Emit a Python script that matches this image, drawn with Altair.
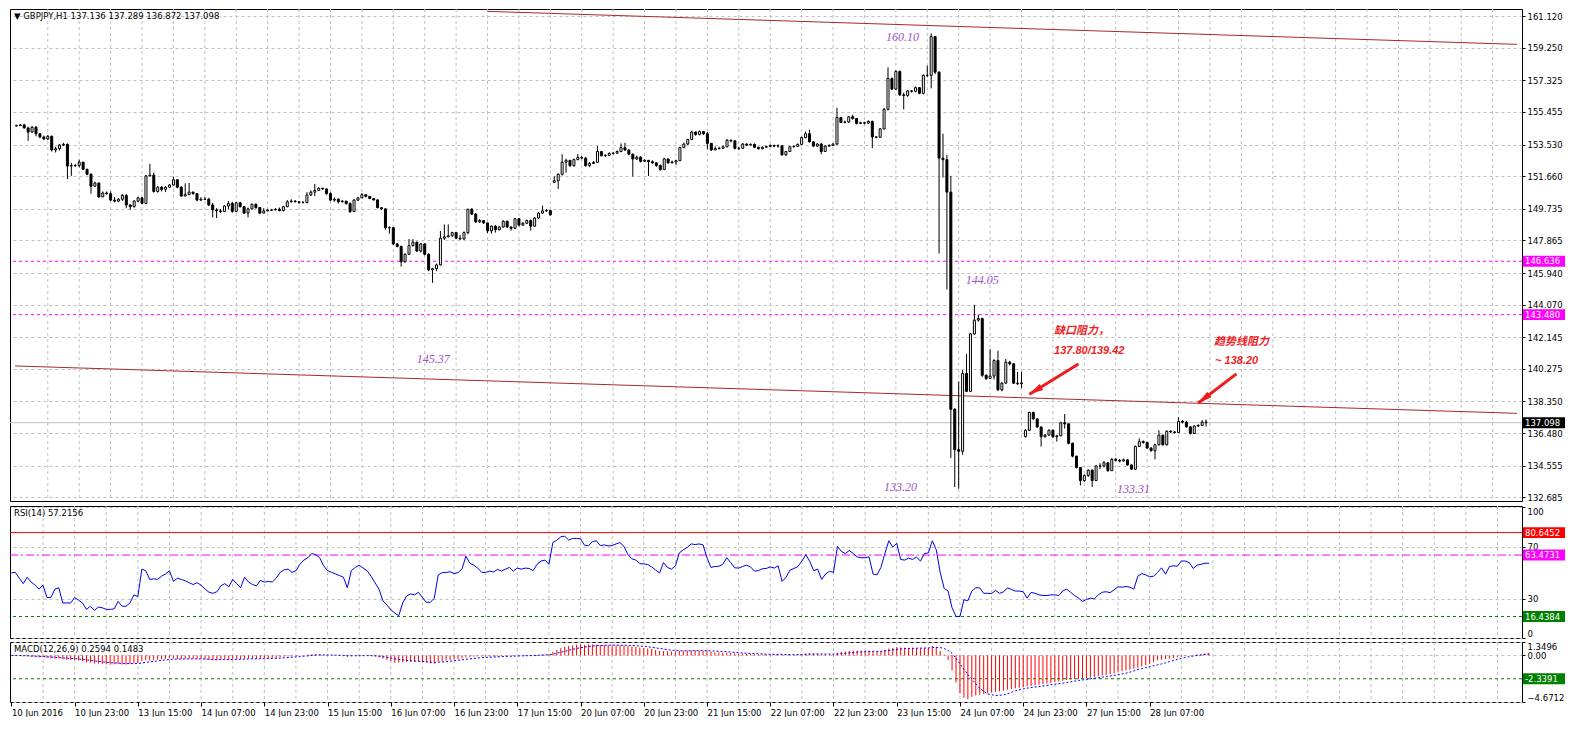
import altair as alt
import pandas as pd

# ---------------- data (GBPJPY H1, bar 0 = 10 Jun 2016 07:00) ----------------
close = [
    154.65, 154.69, 154.51, 154.27, 154.55, 154.17, 153.98, 153.86, 154.02, 153.21,
    153.29, 153.50, 153.54, 152.26, 152.29, 152.29, 152.49, 152.07, 151.78, 151.07,
    151.26, 150.44, 150.67, 150.63, 150.25, 150.19, 150.30, 150.53, 149.96, 149.86,
    150.19, 150.38, 150.05, 151.68, 151.72, 150.76, 151.01, 150.88, 151.01, 151.14,
    151.45, 151.01, 150.49, 150.57, 150.72, 150.63, 150.25, 150.30, 150.30, 149.96,
    149.67, 149.61, 149.58, 149.90, 150.05, 149.58, 150.09, 149.86, 149.48, 149.73,
    150.00, 149.81, 149.48, 149.61, 149.65, 149.67, 149.71, 149.63, 149.86, 150.15,
    150.19, 150.15, 150.11, 150.11, 150.55, 150.72, 150.82, 150.95, 150.91, 150.63,
    150.25, 150.30, 150.15, 150.19, 150.05, 149.57, 150.25, 150.38, 150.57, 150.47,
    150.34, 150.26, 149.80, 149.73, 148.62, 148.62, 147.66, 147.51, 146.61, 147.05,
    147.56, 147.76, 147.24, 147.66, 147.05, 146.13, 146.20, 146.42, 148.00, 148.08,
    148.14, 148.33, 148.00, 147.95, 148.33, 149.71, 149.42, 148.96, 149.04, 148.90,
    148.43, 148.71, 148.50, 148.66, 149.00, 148.66, 148.58, 149.15, 148.77, 148.88,
    149.04, 148.71, 149.19, 149.48, 149.61, 149.63, 149.38, 151.40, 151.78, 152.49,
    152.60, 152.29, 152.64, 152.77, 152.73, 152.29, 152.41, 152.48, 153.12, 152.87,
    152.89, 153.00, 153.02, 153.12, 153.35, 153.21, 152.96, 152.68, 152.79, 152.54,
    152.60, 152.52, 152.45, 152.29, 152.06, 152.68, 152.45, 152.50, 152.58, 153.35,
    153.56, 153.83, 154.27, 154.13, 154.30, 154.17, 153.60, 153.21, 153.29, 153.31,
    153.40, 153.79, 153.75, 153.31, 153.31, 153.56, 153.50, 153.54, 153.37, 153.29,
    153.37, 153.42, 153.48, 153.44, 153.46, 152.92, 153.12, 153.40, 153.42, 153.54,
    153.94, 154.17, 153.69, 153.44, 153.56, 153.12, 153.44, 153.48, 153.56, 155.13,
    154.84, 154.86, 155.17, 155.07, 154.78, 154.82, 154.80, 154.90, 153.98, 153.96,
    154.46, 155.61, 157.43, 156.81, 157.85, 156.47, 156.43, 156.70, 156.68, 156.89,
    156.56, 157.62, 157.62, 159.91, 157.81, 152.73, 152.64, 150.72, 137.89, 135.50,
    135.41, 140.00, 138.95, 142.34, 143.16, 143.25, 139.90, 139.71, 139.85, 140.77,
    139.04, 139.43, 140.67, 140.58, 139.43, 139.40, 139.45, 136.65, 137.70, 137.32,
    136.84, 136.27, 136.36, 136.65, 136.27, 136.32, 137.09, 137.03, 135.88, 135.12,
    134.45, 133.68, 133.97, 134.29, 133.68, 134.54, 134.54, 134.73, 134.26, 134.93,
    134.87, 134.83, 134.90, 134.60, 134.35, 135.69, 135.98, 135.93, 135.60, 135.44,
    135.79, 136.36, 135.79, 136.59, 136.55, 136.52, 137.17, 137.13, 136.85, 136.46,
    136.90, 136.94, 137.13, 137.098,
]
high = [
    154.71, 154.75, 154.75, 154.59, 154.63, 154.63, 154.13, 154.06, 154.09, 154.06,
    153.41, 153.56, 153.63, 153.60, 152.45, 152.39, 152.64, 152.45, 152.10, 151.82,
    151.34, 151.30, 150.76, 150.76, 150.76, 150.42, 150.38, 150.61, 150.61, 150.00,
    150.25, 150.46, 150.42, 151.72, 152.39, 151.87, 151.07, 151.07, 151.07, 151.20,
    151.64, 151.49, 151.07, 151.24, 151.26, 150.76, 150.63, 150.42, 150.42, 150.38,
    150.09, 149.77, 149.73, 149.96, 150.19, 150.15, 150.15, 150.15, 149.90, 149.81,
    150.05, 150.05, 149.84, 149.77, 149.73, 149.73, 149.77, 149.81, 149.90, 150.25,
    150.30, 150.25, 150.19, 150.19, 150.72, 150.82, 151.20, 151.00, 150.97, 150.91,
    150.72, 150.40, 150.36, 150.25, 150.19, 150.11, 150.30, 150.44, 150.67, 150.55,
    150.47, 150.36, 150.30, 149.82, 149.76, 148.70, 148.62, 147.70, 147.56, 147.10,
    147.95, 147.95, 147.80, 147.72, 147.70, 147.10, 146.25, 146.50, 148.43, 148.81,
    148.81, 148.38, 148.36, 148.20, 148.40, 149.73, 149.78, 149.48, 149.13, 149.04,
    148.90, 148.75, 148.77, 148.70, 149.06, 149.04, 148.70, 149.20, 149.20, 148.95,
    149.10, 149.10, 149.25, 149.55, 149.92, 149.72, 149.67, 151.65, 151.82, 152.96,
    152.70, 152.62, 152.70, 152.98, 152.85, 152.79, 152.50, 152.56, 153.44, 153.15,
    152.96, 153.08, 153.10, 153.18, 153.60, 153.63, 153.25, 153.00, 152.87, 152.83,
    152.66, 152.62, 152.60, 152.47, 152.35, 152.75, 152.70, 152.58, 152.62, 153.40,
    153.65, 153.87, 154.35, 154.30, 154.36, 154.34, 154.27, 153.63, 153.42, 153.40,
    153.46, 153.85, 153.82, 153.79, 153.40, 153.62, 153.60, 153.60, 153.60, 153.40,
    153.42, 153.46, 153.54, 153.52, 153.54, 153.50, 153.15, 153.44, 153.48, 153.60,
    154.00, 154.30, 154.40, 153.72, 153.62, 153.63, 153.48, 153.54, 153.60, 155.70,
    155.17, 154.95, 155.22, 155.30, 155.10, 154.88, 154.88, 154.96, 154.94, 154.02,
    154.50, 155.70, 158.09, 157.50, 157.92, 157.90, 156.60, 156.76, 156.75, 156.95,
    156.92, 157.68, 158.19, 160.10, 159.95, 157.85, 154.17, 152.92, 151.68, 137.95,
    139.52, 140.20, 141.15, 142.40, 144.06, 143.49, 143.30, 139.95, 141.44, 140.85,
    141.34, 139.50, 140.86, 140.75, 140.58, 140.10, 140.10, 136.70, 137.75, 137.75,
    137.35, 136.88, 136.42, 136.70, 136.70, 136.38, 137.15, 137.61, 137.05, 135.92,
    135.15, 134.45, 134.05, 134.35, 134.35, 134.60, 134.70, 134.83, 134.75, 135.00,
    135.02, 134.95, 134.98, 134.92, 134.64, 135.75, 136.17, 136.05, 135.95, 135.65,
    135.85, 136.65, 136.40, 136.65, 136.65, 136.60, 137.42, 137.25, 137.20, 136.90,
    136.95, 137.00, 137.25, 137.289,
]
low = [
    154.59, 154.63, 154.48, 153.75, 154.23, 154.02, 153.90, 153.79, 153.79, 153.12,
    153.06, 153.18, 153.44, 151.49, 151.68, 152.20, 152.18, 152.03, 151.72, 150.63,
    151.03, 150.38, 150.53, 150.57, 150.19, 150.11, 150.15, 150.19, 149.77, 149.67,
    149.81, 150.11, 150.00, 150.00, 151.64, 150.69, 150.69, 150.76, 150.72, 150.95,
    151.11, 150.95, 150.44, 150.49, 150.61, 150.57, 150.19, 150.21, 150.25, 149.90,
    149.23, 149.19, 149.48, 149.54, 149.69, 149.50, 149.54, 149.81, 149.42, 149.23,
    149.69, 149.73, 149.42, 149.54, 149.58, 149.61, 149.65, 149.58, 149.58, 149.83,
    150.11, 150.11, 150.03, 150.05, 150.05, 150.49, 150.49, 150.82, 150.86, 150.57,
    150.19, 150.15, 150.05, 150.11, 149.98, 149.48, 149.55, 150.19, 150.36, 150.40,
    150.30, 150.22, 149.76, 149.67, 148.50, 148.27, 147.60, 147.45, 146.32, 146.55,
    147.00, 147.50, 147.18, 147.15, 146.99, 146.05, 145.36, 146.05, 146.38, 147.89,
    148.05, 148.08, 147.95, 147.90, 147.90, 148.23, 149.38, 148.90, 148.90, 148.85,
    148.30, 148.27, 148.33, 148.45, 148.62, 148.60, 148.45, 148.55, 148.70, 148.73,
    148.85, 148.45, 148.68, 149.15, 149.45, 149.55, 149.33, 151.25, 150.91, 151.70,
    151.87, 152.20, 152.22, 152.60, 152.66, 152.22, 152.20, 152.40, 152.45, 152.83,
    152.80, 152.88, 152.95, 152.98, 153.08, 153.15, 152.90, 151.64, 152.62, 152.48,
    152.50, 151.68, 152.40, 152.22, 151.98, 152.02, 152.40, 152.43, 152.33, 152.55,
    153.35, 153.50, 153.79, 154.05, 154.07, 154.10, 153.25, 153.15, 153.21, 153.25,
    153.30, 153.37, 153.66, 153.25, 153.21, 153.29, 153.44, 153.48, 153.33, 153.23,
    153.25, 153.36, 153.40, 153.38, 153.35, 152.88, 152.85, 153.10, 153.36, 153.40,
    153.52, 153.90, 153.65, 153.38, 153.40, 152.96, 153.10, 153.40, 153.44, 153.50,
    154.80, 154.78, 154.80, 155.00, 154.72, 154.74, 154.72, 154.74, 153.31, 153.90,
    153.92, 154.40, 155.55, 156.75, 156.75, 156.40, 155.61, 156.35, 156.60, 156.62,
    156.50, 156.50, 157.52, 156.85, 157.70, 147.09, 151.58, 144.98, 135.02, 133.30,
    133.20, 135.20, 138.90, 138.90, 142.30, 143.06, 139.80, 139.62, 139.70, 139.65,
    138.98, 138.95, 139.40, 140.48, 139.38, 139.33, 139.14, 136.22, 136.60, 137.28,
    136.80, 135.69, 136.22, 136.32, 136.20, 135.98, 136.30, 136.75, 135.82, 135.05,
    134.40, 133.39, 133.60, 133.90, 133.30, 133.65, 134.35, 134.45, 134.20, 134.25,
    134.80, 134.75, 134.80, 134.55, 134.30, 134.30, 135.65, 135.85, 135.55, 135.40,
    134.93, 135.75, 135.75, 135.75, 136.50, 136.45, 136.50, 137.05, 136.80, 136.40,
    136.45, 136.84, 136.90, 136.872,
]
gap_open = {0: 154.63, 137: 151.30, 257: 136.27, 303: 137.136}

rsi = [
    49.8, 50.2, 45.8, 41.6, 46.5, 42.8, 40.4, 37.4, 40.4, 31.0,
    31.0, 37.4, 38.4, 26.8, 26.8, 26.8, 31.0, 29.0, 26.8, 21.9,
    24.3, 21.1, 23.6, 23.1, 21.9, 21.9, 22.3, 28.0, 24.3, 24.3,
    26.8, 33.0, 31.7, 52.7, 51.5, 44.8, 45.3, 44.8, 47.3, 49.0,
    51.5, 43.3, 45.8, 44.8, 43.8, 42.3, 40.9, 42.3, 40.4, 37.4,
    35.0, 34.2, 35.4, 39.9, 41.6, 39.1, 44.8, 41.6, 38.4, 46.5,
    42.8, 40.9, 39.9, 44.1, 42.8, 43.3, 42.8, 45.8, 50.2, 52.2,
    52.7, 50.2, 51.5, 56.4, 59.6, 61.4, 64.6, 63.8, 61.4, 55.2,
    51.5, 50.2, 49.0, 47.8, 46.5, 38.4, 51.5, 54.0, 55.7, 53.5,
    51.5, 47.3, 42.3, 37.4, 28.5, 25.3, 21.6, 19.1, 17.0, 26.8,
    32.2, 33.7, 33.0, 35.0, 31.0, 27.3, 27.3, 30.5, 48.3, 50.0,
    50.2, 50.7, 49.3, 50.0, 52.7, 62.6, 57.2, 55.7, 53.5, 50.2,
    50.2, 51.2, 50.5, 52.5, 51.2, 52.7, 54.0, 51.2, 53.5, 52.7,
    53.5, 53.2, 51.5, 56.4, 58.9, 59.6, 56.4, 73.0, 74.9, 77.4,
    77.9, 74.9, 76.2, 76.2, 75.9, 71.0, 70.5, 73.7, 74.4, 70.7,
    71.2, 70.5, 70.7, 72.0, 73.0, 70.0, 63.8, 60.6, 59.6, 56.9,
    56.7, 56.2, 54.4, 52.0, 49.8, 57.7, 54.0, 52.7, 55.2, 65.1,
    67.5, 69.3, 72.0, 71.5, 72.0, 71.2, 61.4, 54.0, 54.7, 54.9,
    56.4, 61.4, 57.7, 53.7, 53.5, 54.7, 55.7, 54.4, 51.2, 51.5,
    53.0, 53.2, 54.4, 53.5, 55.2, 43.3, 46.5, 52.0, 53.2, 54.7,
    58.9, 63.8, 58.6, 51.5, 52.7, 44.8, 49.0, 51.0, 50.2, 70.0,
    66.3, 64.6, 67.0, 64.6, 62.1, 61.4, 61.4, 62.1, 49.0, 48.3,
    54.0, 64.6, 74.4, 69.5, 72.5, 60.1, 59.6, 61.1, 60.1, 61.9,
    58.9, 64.6, 65.1, 74.4, 67.5, 50.2, 37.9, 35.9, 23.1, 16.5,
    16.44, 29.3, 28.5, 35.9, 38.4, 38.4, 34.2, 34.2, 34.0, 36.4,
    34.2, 35.2, 38.4, 37.2, 35.9, 35.9, 35.4, 30.5, 34.9, 34.2,
    33.0, 32.5, 32.5, 33.0, 33.0, 32.5, 35.9, 37.4, 35.0, 32.5,
    30.5, 28.0, 29.5, 30.5, 30.0, 33.0, 35.0, 35.4, 34.7, 36.9,
    39.1, 38.9, 39.4, 38.9, 37.4, 47.3, 49.3, 48.3, 46.8, 47.3,
    50.2, 53.7, 48.8, 54.7, 55.2, 54.9, 58.9, 58.9, 57.7, 53.2,
    55.7, 56.4, 57.2, 57.2156,
]
macd_main = [
    -0.02, -0.03, -0.05, -0.08, -0.10, -0.15, -0.18, -0.20, -0.18, -0.25,
    -0.30, -0.32, -0.30, -0.40, -0.45, -0.45, -0.45, -0.50, -0.58, -0.70,
    -0.72, -0.82, -0.82, -0.85, -0.90, -0.92, -0.90, -0.85, -0.90, -0.92,
    -0.85, -0.78, -0.75, -0.55, -0.45, -0.50, -0.45, -0.42, -0.38, -0.32,
    -0.28, -0.30, -0.35, -0.35, -0.33, -0.33, -0.35, -0.34, -0.36, -0.40,
    -0.45, -0.48, -0.48, -0.42, -0.38, -0.42, -0.35, -0.35, -0.38, -0.30,
    -0.30, -0.32, -0.35, -0.30, -0.30, -0.28, -0.28, -0.25, -0.18, -0.12,
    -0.10, -0.10, -0.08, -0.03, 0.02, 0.08, 0.12, 0.12, 0.10, 0.05,
    0.02, 0.00, -0.02, -0.03, -0.08, -0.15, -0.08, -0.02, 0.00, 0.00,
    -0.02, -0.05, -0.10, -0.20, -0.32, -0.45, -0.58, -0.72, -0.72, -0.68,
    -0.65, -0.62, -0.62, -0.62, -0.65, -0.72, -0.80, -0.82, -0.62, -0.55,
    -0.50, -0.45, -0.42, -0.35, -0.30, -0.20, -0.15, -0.12, -0.10, -0.10,
    -0.10, -0.12, -0.10, -0.10, -0.05, -0.07, -0.02, -0.03, 0.00, 0.00,
    0.02, 0.02, 0.02, 0.05, 0.08, 0.10, 0.12, 0.35, 0.55, 0.72,
    0.85, 0.95, 1.02, 1.08, 1.10, 1.05, 1.12, 1.10, 1.08, 1.05,
    1.05, 1.02, 1.00, 1.00, 1.02, 1.00, 0.95, 0.90, 0.85, 0.80,
    0.75, 0.70, 0.65, 0.55, 0.45, 0.45, 0.42, 0.40, 0.40, 0.45,
    0.48, 0.50, 0.52, 0.52, 0.50, 0.48, 0.45, 0.38, 0.32, 0.30,
    0.28, 0.28, 0.25, 0.22, 0.20, 0.18, 0.16, 0.15, 0.13, 0.10,
    0.10, 0.10, 0.10, 0.10, 0.10, 0.05, 0.05, 0.05, 0.06, 0.08,
    0.12, 0.20, 0.22, 0.20, 0.18, 0.12, 0.10, 0.10, 0.10, 0.25,
    0.35, 0.40, 0.45, 0.48, 0.48, 0.48, 0.48, 0.48, 0.40, 0.38,
    0.42, 0.55, 0.70, 0.75, 0.85, 0.80, 0.78, 0.76, 0.75, 0.72,
    0.70, 0.75, 0.78, 0.95, 0.85, 0.45, 0.10, -0.45, -1.50, -2.70,
    -3.80, -4.25, -4.37, -4.15, -4.01, -3.95, -3.85, -3.80, -3.72, -3.68,
    -3.60, -3.52, -3.44, -3.38, -3.30, -3.24, -3.18, -3.12, -3.06, -3.00,
    -2.94, -2.88, -2.82, -2.75, -2.68, -2.62, -2.55, -2.48, -2.41, -2.37,
    -2.34, -2.30, -2.27, -2.22, -2.15, -2.08, -2.01, -1.95, -1.88, -1.80,
    -1.67, -1.59, -1.50, -1.42, -1.34, -1.22, -1.10, -0.97, -0.84, -0.68,
    -0.50, -0.42, -0.35, -0.30, -0.27, -0.20, -0.12, -0.07, -0.02, 0.04,
    0.10, 0.15, 0.20, 0.2594,
]
macd_signal = [
    0.00, -0.01, -0.01, -0.02, -0.03, -0.05, -0.07, -0.09, -0.11, -0.13,
    -0.16, -0.19, -0.21, -0.24, -0.27, -0.30, -0.33, -0.36, -0.40, -0.45,
    -0.50, -0.55, -0.60, -0.64, -0.68, -0.72, -0.75, -0.77, -0.79, -0.81,
    -0.82, -0.82, -0.81, -0.76, -0.70, -0.65, -0.60, -0.55, -0.50, -0.45,
    -0.41, -0.38, -0.37, -0.36, -0.35, -0.35, -0.35, -0.35, -0.35, -0.36,
    -0.38, -0.40, -0.42, -0.42, -0.41, -0.41, -0.40, -0.39, -0.38, -0.37,
    -0.35, -0.34, -0.34, -0.33, -0.32, -0.31, -0.30, -0.29, -0.27, -0.24,
    -0.21, -0.18, -0.15, -0.12, -0.08, -0.04, 0.00, 0.03, 0.05, 0.05,
    0.05, 0.04, 0.03, 0.02, 0.00, -0.02, -0.03, -0.03, -0.02, -0.02,
    -0.02, -0.02, -0.04, -0.07, -0.12, -0.18, -0.25, -0.33, -0.40, -0.45,
    -0.50, -0.53, -0.56, -0.58, -0.60, -0.63, -0.67, -0.70, -0.68, -0.65,
    -0.62, -0.58, -0.54, -0.49, -0.44, -0.39, -0.34, -0.30, -0.26, -0.22,
    -0.20, -0.18, -0.16, -0.14, -0.12, -0.10, -0.08, -0.07, -0.05, -0.04,
    -0.03, -0.02, -0.01, 0.01, 0.03, 0.05, 0.06, 0.12, 0.22, 0.32,
    0.42, 0.52, 0.62, 0.70, 0.78, 0.84, 0.90, 0.94, 0.98, 1.00,
    1.02, 1.03, 1.03, 1.03, 1.02, 1.02, 1.01, 1.00, 0.98, 0.95,
    0.92, 0.88, 0.82, 0.76, 0.70, 0.64, 0.58, 0.53, 0.49, 0.47,
    0.46, 0.46, 0.47, 0.47, 0.48, 0.48, 0.47, 0.46, 0.44, 0.42,
    0.40, 0.37, 0.34, 0.31, 0.28, 0.25, 0.23, 0.21, 0.19, 0.17,
    0.15, 0.13, 0.12, 0.11, 0.11, 0.10, 0.09, 0.08, 0.08, 0.08,
    0.09, 0.11, 0.13, 0.14, 0.15, 0.15, 0.14, 0.14, 0.13, 0.15,
    0.18, 0.22, 0.26, 0.30, 0.33, 0.36, 0.38, 0.40, 0.41, 0.41,
    0.42, 0.45, 0.50, 0.55, 0.61, 0.65, 0.68, 0.70, 0.72, 0.73,
    0.73, 0.74, 0.75, 0.79, 0.82, 0.78, 0.70, 0.50, 0.20, -0.30,
    -0.85, -1.40, -1.90, -2.35, -2.85, -3.30, -3.60, -3.85, -3.95, -4.01,
    -4.00, -3.95, -3.85, -3.70, -3.55, -3.45, -3.35, -3.28, -3.22, -3.17,
    -3.12, -3.06, -3.00, -2.95, -2.89, -2.84, -2.78, -2.72, -2.65, -2.58,
    -2.51, -2.46, -2.40, -2.35, -2.29, -2.24, -2.18, -2.12, -2.06, -2.00,
    -1.94, -1.86, -1.78, -1.68, -1.55, -1.42, -1.32, -1.22, -1.12, -1.03,
    -0.94, -0.85, -0.74, -0.62, -0.50, -0.40, -0.30, -0.20, -0.12, -0.06,
    0.00, 0.05, 0.10, 0.1483,
]

price_ticks = [161.120, 159.250, 157.325, 155.455, 153.530, 151.660, 149.735, 147.865,
               145.940, 144.070, 142.145, 140.275, 138.350, 136.480, 134.555, 132.685]
time_labels = ["10 Jun 2016", "10 Jun 23:00", "13 Jun 15:00", "14 Jun 07:00", "14 Jun 23:00",
               "15 Jun 15:00", "16 Jun 07:00", "16 Jun 23:00", "17 Jun 15:00", "20 Jun 07:00",
               "20 Jun 23:00", "21 Jun 15:00", "22 Jun 07:00", "22 Jun 23:00", "23 Jun 15:00",
               "24 Jun 07:00", "24 Jun 23:00", "27 Jun 15:00", "28 Jun 07:00"]
time_bars = [0, 16, 32, 48, 64, 80, 96, 112, 128, 144, 160, 176, 192, 208, 224, 240, 256, 272, 288]

magenta_levels = [146.636, 143.480]
bid_level = 137.098
rsi_red, rsi_mag, rsi_green = 80.6452, 63.4731, 16.4384
macd_green = -2.3391

trend_id = ["upper", "upper", "lower", "lower"]
trend_bar = [120.0, 382.2, -0.35, 382.2]
trend_price = [161.40, 159.45, 140.45, 137.65]

note_text = ["160.10", "145.37", "144.05", "133.20", "133.31"]
note_bar = [221.5, 102.0, 241.8, 221.0, 280.3]
note_price = [159.91, 140.84, 145.50, 133.32, 133.15]

red_text = ["缺口阻力，", "137.80/139.42", "趋势线阻力", "~ 138.20"]
red_bar = [264.3, 264.3, 305.0, 305.3]
red_price = [142.51, 141.36, 141.88, 140.73]

arrow_id = ["a1", "a1", "a2", "a2"]
arrow_bar = [270.5, 258.0, 310.75, 301.0]
arrow_price = [140.56, 138.78, 139.98, 138.26]
head_bar = [258.0, 301.0]
head_price = [138.78, 138.26]
head_angle = [239, 233]

# ---------------- layout ----------------
W = 1512
H1, H2, H3 = 492, 132, 60
FONT = "DejaVu Sans"
FS = 8.5

n = len(close)
assert len(high) == n and len(low) == n and len(rsi) == n
assert len(macd_main) == n and len(macd_signal) == n
opens = [gap_open.get(i, close[i - 1] if i > 0 else close[0]) for i in range(n)]
cdf = pd.DataFrame({"i": list(range(n)), "open": opens, "high": high, "low": low, "close": close})
cdf["high"] = cdf[["high", "open", "close"]].max(axis=1)
cdf["low"] = cdf[["low", "open", "close"]].min(axis=1)

xs = alt.Scale(domain=[-0.35, 382.2], nice=False, zero=False)
XN = alt.X("i:Q", scale=xs, axis=None)
label_js = "[" + ",".join("'" + t + "'" for t in time_labels) + "][round(datum.value/16)]"
taxis = alt.Axis(orient="bottom", values=time_bars, labelExpr=label_js, labelAlign="left",
                 labelBaseline="top", labelPadding=2, tickSize=4, grid=False, domain=False,
                 labelFlush=False, labelOverlap=False, title=None)
XB = alt.X("i:Q", scale=xs, axis=taxis)

vgrid = pd.DataFrame({"i": list(range(8, 381, 8))})

BOX = "M-1,-0.26L1,-0.26L1,0.26L-1,0.26Z"
HEAD = "M0,0L0.45,1.8L-0.45,1.8Z"


def grid_layer(xenc):
    return alt.Chart(vgrid).mark_rule(color="#c0c0c0", strokeDash=[3, 3], strokeWidth=1).encode(x=xenc)


def boxes(df, yenc_fn):
    b = alt.Chart(df).mark_point(shape=BOX, filled=True, size=42 * 42, opacity=1, strokeWidth=0).encode(
        x=alt.value(W + 22), y=yenc_fn("v"), color=alt.Color("bg:N", scale=None))
    t = alt.Chart(df).mark_text(align="left", baseline="middle", font=FONT, fontSize=FS).encode(
        x=alt.value(W + 3), y=yenc_fn("v"), text="lab:N", color=alt.Color("fg:N", scale=None))
    return b + t


def title_layer(txt):
    return alt.Chart(pd.DataFrame({"t": [txt]})).mark_text(
        align="left", baseline="top", font=FONT, fontSize=FS, color="black").encode(
        x=alt.value(4), y=alt.value(3), text="t:N")


# ---------------- price panel ----------------
ps = alt.Scale(domain=[132.47, 161.54], nice=False, zero=False)
paxis = alt.Axis(orient="right", values=price_ticks, format=".3f", grid=True, tickSize=3,
                 labelPadding=2, title=None, domain=False, labelFlush=False)


def PY(f):
    return alt.Y(f + ":Q", scale=ps, axis=paxis)


mag_df = pd.DataFrame({"v": magenta_levels})
mag = alt.Chart(mag_df).mark_rule(color="#ff00ff", strokeDash=[3, 3], strokeWidth=1).encode(y=PY("v"))
bid = alt.Chart(pd.DataFrame({"v": [bid_level]})).mark_rule(color="#c0c0c0", strokeWidth=1).encode(y=PY("v"))

tdf = pd.DataFrame({"id": trend_id, "i": trend_bar, "v": trend_price})
trend = alt.Chart(tdf).mark_line(color="#a52a2a", strokeWidth=1, clip=True).encode(
    x=XN, y=PY("v"), detail="id:N")

wick = alt.Chart(cdf).mark_rule(color="black", strokeWidth=1).encode(
    x=XN, y=PY("low"), y2="high:Q")
body = alt.Chart(cdf).mark_bar(size=2, stroke="black", strokeWidth=1, orient="vertical").encode(
    x=XN, y=PY("open"), y2="close:Q",
    fill=alt.condition("datum.close >= datum.open", alt.value("white"), alt.value("black")))

ndf = pd.DataFrame({"t": note_text, "i": note_bar, "v": note_price})
notes = alt.Chart(ndf).mark_text(align="left", baseline="middle", font="Liberation Serif",
                                 fontStyle="italic", fontSize=12, color="#a050c8").encode(
    x=XN, y=PY("v"), text="t:N")

rdf = pd.DataFrame({"t": red_text, "i": red_bar, "v": red_price})
rnotes = alt.Chart(rdf).mark_text(align="left", baseline="middle",
                                  font="Liberation Sans, Noto Sans CJK SC",
                                  fontStyle="italic", fontWeight="bold", fontSize=11,
                                  color="#f01e1e").encode(x=XN, y=PY("v"), text="t:N")

adf = pd.DataFrame({"id": arrow_id, "i": arrow_bar, "v": arrow_price})
arrows = alt.Chart(adf).mark_line(color="#ee1c1c", strokeWidth=3).encode(
    x=XN, y=PY("v"), detail="id:N")
hdf = pd.DataFrame({"i": head_bar, "v": head_price, "ang": head_angle})
heads = alt.Chart(hdf).mark_point(shape=HEAD, filled=True, size=243, opacity=1,
                                  color="#ee1c1c", strokeWidth=0).encode(
    x=XN, y=PY("v"), angle=alt.Angle("ang:Q", scale=None))

pbox_df = pd.DataFrame({"v": [146.636, 143.480, bid_level],
                        "lab": ["146.636", "143.480", "137.098"],
                        "bg": ["#ff00ff", "#ff00ff", "#000000"],
                        "fg": ["white", "white", "white"]})

price_panel = alt.layer(
    grid_layer(XN), mag, bid, trend, wick, body, notes, rnotes, arrows, heads,
    boxes(pbox_df, PY),
    title_layer("▼ GBPJPY,H1  137.136 137.289 136.872 137.098"),
).properties(width=W, height=H1)

# ---------------- RSI panel ----------------
rs = alt.Scale(domain=[0, 101], nice=False, zero=False)
raxis = alt.Axis(orient="right", values=[100, 70, 30, 0], format="d", grid=True, tickSize=3,
                 labelPadding=2, title=None, domain=False, labelFlush=3)


def RY(f):
    return alt.Y(f + ":Q", scale=rs, axis=raxis)


rsi_df = pd.DataFrame({"i": list(range(n)), "v": rsi})
r_red = alt.Chart(pd.DataFrame({"v": [rsi_red]})).mark_rule(color="#ff0000", strokeWidth=1).encode(y=RY("v"))
r_mag = alt.Chart(pd.DataFrame({"v": [rsi_mag]})).mark_rule(
    color="#ff00ff", strokeWidth=1, strokeDash=[8, 3, 2, 3]).encode(y=RY("v"))
r_grn = alt.Chart(pd.DataFrame({"v": [rsi_green]})).mark_rule(
    color="#008000", strokeWidth=1, strokeDash=[3, 3]).encode(y=RY("v"))
r_line = alt.Chart(rsi_df).mark_line(color="#0000e6", strokeWidth=1).encode(x=XN, y=RY("v"))
rbox_df = pd.DataFrame({"v": [rsi_red, rsi_mag, rsi_green],
                        "lab": ["80.6452", "63.4731", "16.4384"],
                        "bg": ["#ff0000", "#ff00ff", "#008000"],
                        "fg": ["white", "white", "white"]})

rsi_panel = alt.layer(
    grid_layer(XN), r_red, r_mag, r_grn, r_line, boxes(rbox_df, RY),
    title_layer("RSI(14) 57.2156"),
).properties(width=W, height=H2)

# ---------------- MACD panel ----------------
ms = alt.Scale(domain=[-4.6712, 1.3496], nice=False, zero=False)
maxis = alt.Axis(orient="right", values=[1.3496, 0, -4.6712],
                 labelExpr="datum.value == 0 ? '0.00' : format(datum.value, '.4f')",
                 grid=True, tickSize=3, labelPadding=2, title=None, domain=False, labelFlush=True)


def MY(f):
    return alt.Y(f + ":Q", scale=ms, axis=maxis)


mdf = pd.DataFrame({"i": list(range(n)), "h": macd_main, "s": macd_signal, "z": [0.0] * n})
m_grn = alt.Chart(pd.DataFrame({"v": [macd_green]})).mark_rule(
    color="#008000", strokeWidth=1, strokeDash=[3, 3]).encode(y=MY("v"))
m_hist = alt.Chart(mdf).mark_rule(color="#ff0000", strokeWidth=1).encode(x=XB, y=MY("h"), y2="z:Q")
m_sig = alt.Chart(mdf).mark_line(color="#0000ff", strokeWidth=1, strokeDash=[2, 2]).encode(x=XB, y=MY("s"))
mbox_df = pd.DataFrame({"v": [macd_green], "lab": ["-2.3391"], "bg": ["#008000"], "fg": ["white"]})

macd_panel = alt.layer(
    grid_layer(XB), m_grn, m_hist, m_sig, boxes(mbox_df, MY),
    title_layer("MACD(12,26,9) 0.2594 0.1483"),
).properties(width=W, height=H3)

chart = alt.vconcat(price_panel, rsi_panel, macd_panel, spacing=2).resolve_scale(
    x="independent", y="independent"
).configure_view(stroke="black", strokeWidth=1).configure_axis(
    labelFont=FONT, labelFontSize=FS, labelColor="black", tickColor="black",
    gridColor="#c0c0c0", gridDash=[3, 3], gridWidth=1
).properties(padding={"left": 0, "top": 0, "right": 0, "bottom": 0}, background="white")

chart.save("out.html", embed_options={"renderer": "svg", "actions": False})
